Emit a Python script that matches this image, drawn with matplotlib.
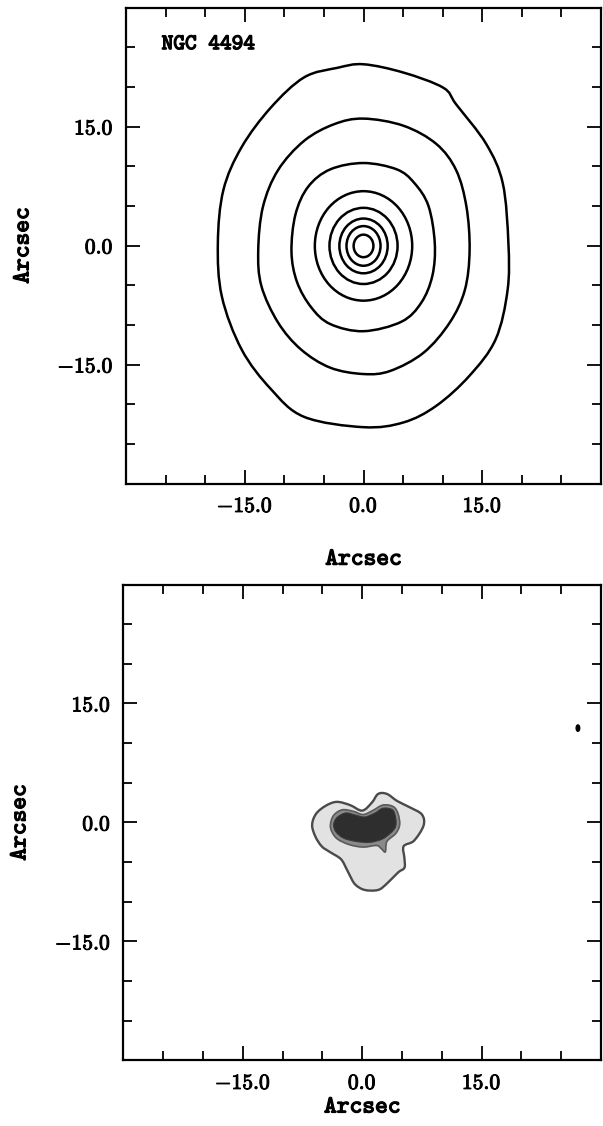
import numpy as np
import matplotlib
matplotlib.use("Agg")
import matplotlib.pyplot as plt
import matplotlib.patheffects as pe
from matplotlib.path import Path
from matplotlib.patches import PathPatch, Ellipse
from matplotlib.ticker import MultipleLocator, FuncFormatter

plt.rcParams['mathtext.fontset'] = 'cm'

# isophotes of the galaxy (arcsec), outer ones traced point by point
iso1_x = [0.0, 5.05, 10.06, 11.7, 15.5, 17.6, 18.3, 18.2, 16.7, 13.4, 9.2, 5.05,
          0.0, -7.5, -11.7, -15.4, -17.9, -18.4, -17.7, -15.4, -11.7, -7.5, -3.3]
iso1_y = [22.85, 21.8, 19.9, 17.8, 12.8, 7.8, 0.3, -5.6, -11.8, -16.4, -20.2, -22.3,
          -22.9, -21.6, -18.1, -13.1, -6.4, 0.3, 7.0, 12.4, 17.4, 21.2, 22.4]

iso2_x = [0.0, 5.05, 9.2, 11.7, 13.0, 13.4, 12.8, 10.9, 7.6, 3.4, 0.0, -4.2,
          -7.9, -10.8, -12.9, -13.3, -12.7, -10.8, -7.5, -3.7]
iso2_y = [16.0, 15.1, 12.8, 9.5, 4.9, -0.6, -5.6, -9.7, -13.5, -15.8, -16.2, -15.4,
          -13.1, -9.7, -5.1, -0.6, 4.9, 9.5, 13.2, 15.3]

iso3_x = [0.0, 4.2, 6.4, 8.2, 9.0, 8.7, 7.3, 4.8, 0.0, -4.2, -6.6, -8.4, -9.1,
          -8.6, -7.0, -4.2]
iso3_y = [10.4, 9.6, 7.9, 5.0, 0.3, -3.8, -7.2, -9.6, -10.8, -9.9, -7.8, -4.6,
          -0.8, 3.9, 7.4, 9.6]

# inner isophotes are close to ellipses: semi-axes in arcsec
inner_ax = [6.15, 4.3, 3.05, 2.15, 1.25]
inner_ay = [6.9, 4.8, 3.45, 2.5, 1.42]

# residual map levels (arcsec)
res_out_x = [-6.3, -5.8, -4.6, -3.2, -1.55, 0.0, 1.2, 2.0, 3.1, 4.4, 6.0, 7.5, 7.7,
             6.5, 5.2, 5.3, 5.3, 4.5, 3.1, 2.0, 0.3, -0.9, -1.6, -2.0, -2.7,
             -4.1, -5.1, -5.9]
res_out_y = [-0.3, 1.1, 2.1, 2.6, 2.2, 1.5, 2.5, 3.6, 3.6, 2.7, 1.9, 1.0, -0.4,
             -2.3, -3.0, -4.5, -5.7, -6.3, -7.7, -8.5, -8.5, -7.8, -6.6, -5.8,
             -4.6, -3.7, -3.0, -1.75]

res_mid_x = [-4.0, -3.6, -2.5, -1.1, 0.1, 1.3, 2.6, 3.9, 4.5, 4.7, 4.2, 3.1, 2.9,
             2.4, 1.8, 0.1, -1.6, -3.1, -3.8]
res_mid_y = [-0.3, 0.9, 1.6, 1.4, 1.0, 1.5, 2.2, 2.0, 1.1, -0.3, -1.4, -2.4, -3.7,
             -3.3, -2.9, -3.1, -2.8, -2.1, -1.2]

res_core_x = [-3.6, -3.2, -2.1, -0.9, 0.3, 1.6, 2.6, 3.8, 4.2, 4.2, 3.6, 2.5, 0.95,
              -0.7, -2.3, -3.3]
res_core_y = [-0.3, 0.6, 1.2, 0.95, 0.7, 1.2, 1.8, 1.6, 0.6, -0.5, -1.3, -2.1, -2.5,
              -2.4, -2.0, -1.2]

spot_x, spot_y = 27.1, 11.9

major_ticks = [-15.0, 0.0, 15.0]

bold = [pe.withStroke(linewidth=0.9, foreground='black')]


def closed_path(xs, ys):
    # smooth closed curve through the points (Catmull-Rom as cubic Beziers)
    p = np.column_stack([xs, ys]).astype(float)
    n = len(p)
    verts = [p[0]]
    codes = [Path.MOVETO]
    for i in range(n):
        p0, p1, p2, p3 = p[i - 1], p[i], p[(i + 1) % n], p[(i + 2) % n]
        verts += [p1 + (p2 - p0) / 6.0, p2 - (p3 - p1) / 6.0, p2]
        codes += [Path.CURVE4] * 3
    return Path(verts, codes)


def fmt(v, pos):
    if any(abs(v - m) < 1e-6 for m in major_ticks):
        return r'$%.1f$' % v
    return ''


def label(ax, x, y, s, size=17.5, **kw):
    t = ax.text(x, y, s, fontsize=size, family='cmtt10',
                transform=ax.transAxes, **kw)
    t.set_path_effects(bold)
    return t


def setup_axes(ax):
    ax.set_xlim(-30, 30)
    ax.set_ylim(-30, 30)
    for a in (ax.xaxis, ax.yaxis):
        a.set_major_locator(MultipleLocator(15))
        a.set_minor_locator(MultipleLocator(5))
        a.set_major_formatter(FuncFormatter(fmt))
    ax.tick_params(which='both', direction='in', top=True, right=True,
                   width=1.3, color='black', labelsize=15.5, pad=9)
    ax.tick_params(which='major', length=10)
    ax.tick_params(which='minor', length=6.5)
    for s in ax.spines.values():
        s.set_linewidth(1.6)
    label(ax, -0.215, 0.5, 'Arcsec', rotation=90, ha='center', va='center')


fig = plt.figure(figsize=(6.03, 11.26), dpi=100)
ax1 = fig.add_axes([0.2090, 0.5706, 0.7877, 0.4227])
ax2 = fig.add_axes([0.2048, 0.0582, 0.7919, 0.4227])

# top: isophote map
for xs, ys in [(iso1_x, iso1_y), (iso2_x, iso2_y), (iso3_x, iso3_y)]:
    ax1.add_patch(PathPatch(closed_path(xs, ys), fill=False, lw=1.8,
                            edgecolor='black'))
for a, b in zip(inner_ax, inner_ay):
    ax1.add_patch(Ellipse((0.0, -0.05), 2 * a, 2 * b, fill=False, lw=1.8,
                          edgecolor='black'))
setup_axes(ax1)
label(ax1, 0.075, 0.922, 'NGC 4494', size=16, ha='left', va='center')
label(ax1, 0.5, -0.161, 'Arcsec', ha='center', va='center')

# bottom: residual image
ax2.add_patch(PathPatch(closed_path(res_out_x, res_out_y), facecolor='#e2e2e2',
                        edgecolor='#4a4a4a', lw=1.7))
ax2.add_patch(PathPatch(closed_path(res_mid_x, res_mid_y), facecolor='#8a8a8a',
                        edgecolor='#5a5a5a', lw=1.2))
ax2.add_patch(PathPatch(closed_path(res_core_x, res_core_y), facecolor='#2e2e2e',
                        edgecolor='#3a3a3a', lw=0.8))
ax2.add_patch(Ellipse((spot_x, spot_y), 0.45, 0.8, color='black'))
setup_axes(ax2)
label(ax2, 0.5, -0.0998, 'Arcsec', ha='center', va='center')

# heavier tick numbers
fig.canvas.draw()
for ax in (ax1, ax2):
    for t in ax.get_xticklabels() + ax.get_yticklabels():
        t.set_path_effects([pe.withStroke(linewidth=0.7, foreground='black')])

fig.savefig('out.png', dpi=100)
